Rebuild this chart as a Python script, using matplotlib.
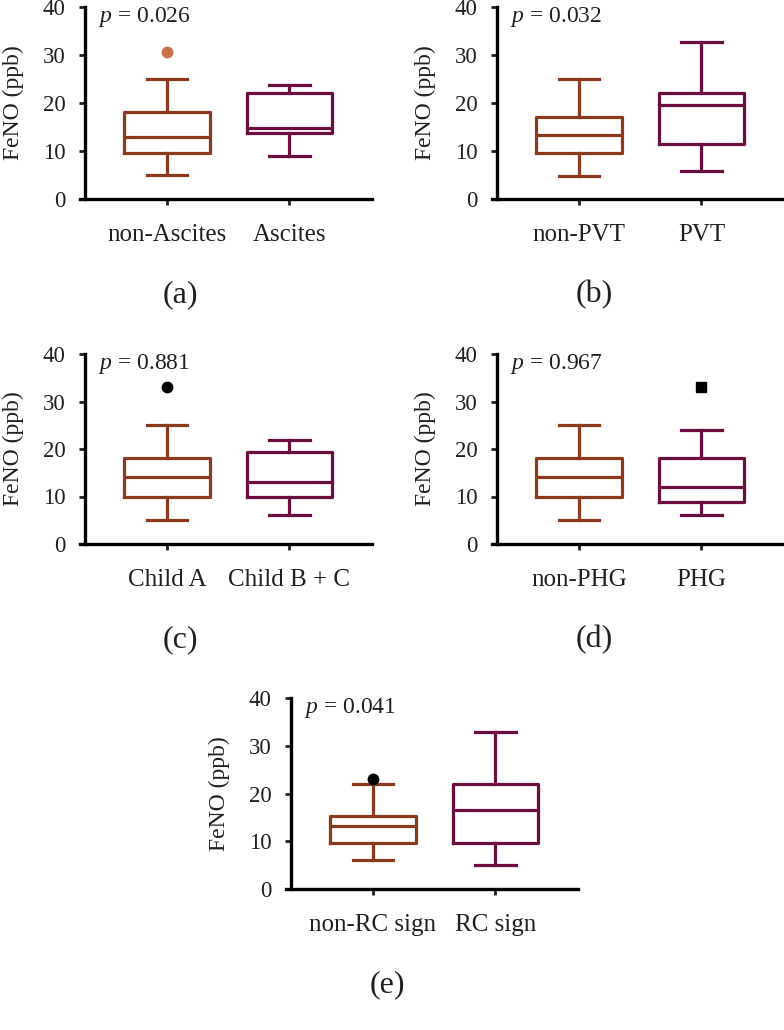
import matplotlib
matplotlib.use("Agg")
import matplotlib.pyplot as plt

plt.rcParams['font.family'] = ['Liberation Serif', 'DejaVu Serif']
plt.rcParams['mathtext.fontset'] = 'custom'
plt.rcParams['mathtext.rm'] = 'Liberation Serif'
plt.rcParams['mathtext.it'] = 'Liberation Serif:italic'

W, H = 784, 1030
orange = '#8c3a1e'
purple = '#6b0e3f'
ink = '#231f20'

# group labels per panel
groups_a = ["non-Ascites", "Ascites"]
groups_b = ["non-PVT", "PVT"]
groups_c = ["Child A", "Child B + C"]
groups_d = ["non-PHG", "PHG"]
groups_e = ["non-RC sign", "RC sign"]

# box stats: [whislo, q1, med, q3, whishi]
stats_a = [[5.0, 9.6, 12.9, 18.1, 24.9], [9.0, 13.7, 14.8, 22.1, 23.8]]
stats_b = [[4.8, 9.6, 13.3, 17.0, 24.9], [5.8, 11.4, 19.5, 22.1, 32.8]]
stats_c = [[5.0, 10.0, 14.1, 18.2, 25.0], [6.1, 9.8, 13.0, 19.3, 22.0]]
stats_d = [[5.0, 9.8, 14.1, 18.2, 25.0], [6.1, 8.8, 12.0, 18.2, 24.1]]
stats_e = [[6.0, 9.7, 13.1, 15.3, 21.9], [5.1, 9.7, 16.6, 22.0, 32.9]]

fliers_a = [[30.6], []]
fliers_b = [[], []]
fliers_c = [[33.0], []]
fliers_d = [[], [33.0]]
fliers_e = [[23.0], []]

pvals = ["0.026", "0.032", "0.881", "0.967", "0.041"]
letters = ["(a)", "(b)", "(c)", "(d)", "(e)"]

# panel placement in pixels: y-axis x, x-axis y, top y
boxes = [(85, 199, 7), (497, 199, 7), (85, 544, 354), (497, 544, 354), (291, 889, 698)]
letter_pos = [(180, 295), (594, 295), (180, 640), (594, 640), (387, 985)]
flier_style = [
    [dict(marker='o', mfc='#c8704b', mec='#c8704b', ms=7.5), None],
    [None, None],
    [dict(marker='o', mfc='black', mec='black', ms=7.5), None],
    [None, dict(marker='s', mfc='black', mec='black', ms=7)],
    [dict(marker='o', mfc='black', mec='black', ms=7.5), None],
]

all_groups = [groups_a, groups_b, groups_c, groups_d, groups_e]
all_stats = [stats_a, stats_b, stats_c, stats_d, stats_e]
all_fliers = [fliers_a, fliers_b, fliers_c, fliers_d, fliers_e]

fig = plt.figure(figsize=(W / 100, H / 100), dpi=100)
xl, xr = 0.29, 2.67
unit = 122.5

for k in range(5):
    x0, yb, yt = boxes[k]
    left_px = x0 - 5
    width_px = (xr - xl) * unit
    ax = fig.add_axes([left_px / W, (H - yb) / H, width_px / W, (yb - yt) / H])
    ax.set_xlim(xl, xr)
    ax.set_ylim(0, 40)
    colors = [orange, purple]
    for i in range(2):
        s = all_stats[k][i]
        st = [dict(whislo=s[0], q1=s[1], med=s[2], q3=s[3], whishi=s[4], fliers=all_fliers[k][i])]
        fp = flier_style[k][i] or dict(marker='o')
        ax.bxp(st, positions=[i + 1], widths=0.7, capwidths=0.33, showfliers=True,
               boxprops=dict(color=colors[i], lw=2.3),
               medianprops=dict(color=colors[i], lw=2.3),
               whiskerprops=dict(color=colors[i], lw=2.3),
               capprops=dict(color=colors[i], lw=2.3),
               flierprops=dict(linestyle='none', **fp))
    for sp in ['top', 'right']:
        ax.spines[sp].set_visible(False)
    ax.spines['left'].set_position(('axes', 5 / width_px))
    ax.spines['left'].set_linewidth(2.4)
    ax.spines['bottom'].set_linewidth(2.4)
    ax.set_yticks([0, 10, 20, 30, 40])
    ax.set_xticks([1, 2])
    ax.set_xticklabels(all_groups[k])
    ax.tick_params(axis='y', length=4, width=2, pad=10, labelsize=16.5, colors=ink)
    ax.tick_params(axis='x', length=4, width=2, pad=14, labelsize=18, colors=ink)
    ax.set_ylabel("FeNO (ppb)", fontsize=17, color=ink)
    ax.yaxis.label.set_va('center')
    ax.yaxis.set_label_coords(-67 / width_px, 0.5)
    ax.text(18 / width_px, 0.95, "$p$ = " + pvals[k], transform=ax.transAxes, ha='left', va='center',
            fontsize=17, color=ink)
    lx, ly = letter_pos[k]
    fig.text(lx / W, 1 - ly / H, letters[k], ha='center', va='center', fontsize=23, color=ink)

fig.savefig("out.png", dpi=100)
